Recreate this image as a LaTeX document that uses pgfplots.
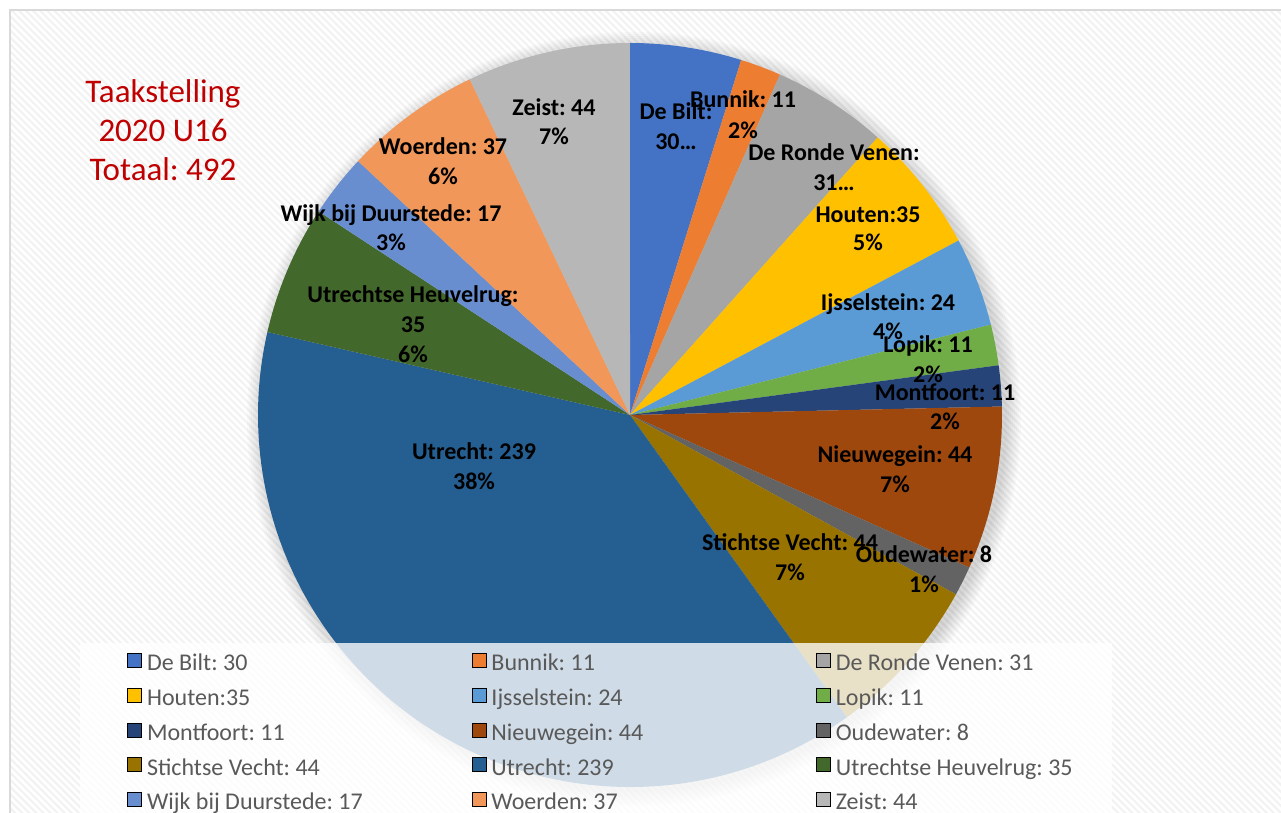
\documentclass[border=0pt]{standalone}
\usepackage{pgfplots}
\pgfplotsset{compat=1.18}
\usepackage{pgfplotstable}
\usetikzlibrary{patterns.meta}
\usepackage{fontspec}
\setmainfont{Carlito}
\frenchspacing
\definecolor{c1}{HTML}{4472C4}
\definecolor{c2}{HTML}{ED7D31}
\definecolor{c3}{HTML}{A5A5A5}
\definecolor{c4}{HTML}{FFC000}
\definecolor{c5}{HTML}{5B9BD5}
\definecolor{c6}{HTML}{70AD47}
\definecolor{c7}{HTML}{264478}
\definecolor{c8}{HTML}{9E480E}
\definecolor{c9}{HTML}{636363}
\definecolor{c10}{HTML}{997300}
\definecolor{c11}{HTML}{255E91}
\definecolor{c12}{HTML}{43682B}
\definecolor{c13}{HTML}{698ED0}
\definecolor{c14}{HTML}{F1975A}
\definecolor{c15}{HTML}{B7B7B7}
\definecolor{legendgray}{HTML}{595959}
\definecolor{titlered}{HTML}{C00000}

\pgfplotstableread[col sep=comma]{
name,value,color
De Bilt,30,c1
Bunnik,11,c2
De Ronde Venen,31,c3
Houten,35,c4
Ijsselstein,24,c5
Lopik,11,c6
Montfoort,11,c7
Nieuwegein,44,c8
Oudewater,8,c9
Stichtse Vecht,44,c10
Utrecht,239,c11
Utrechtse Heuvelrug,35,c12
Wijk bij Duurstede,17,c13
Woerden,37,c14
Zeist,44,c15
}\piedata

\newcommand{\lblfont}{\fontsize{24}{28}\selectfont\bfseries}
\newcommand{\lbl}[5]{%
  \node[anchor=base,font=\lblfont,inner sep=0pt] at (axis cs:#1,#2) {#4};
  \node[anchor=base,font=\lblfont,inner sep=0pt] at (axis cs:#1,#3) {#5};}

\begin{document}
\begin{tikzpicture}
\useasboundingbox (0,0) rectangle (1281pt,812pt);
\clip (0,0) rectangle (1281pt,812pt);
\begin{axis}[
  at={(0,0)}, anchor=south west,
  scale only axis, width=1281pt, height=812pt,
  xmin=0, xmax=1281, ymin=-812, ymax=0,
  hide axis, clip=false,
  legend columns=3,
  legend cell align=left,
  legend image code/.code={\fill[#1] (0pt,-1pt) rectangle (14pt,13pt);},
  legend style={at={(0.0991,0.1958)}, anchor=north west, draw=none, fill=none,
     inner sep=0pt, column sep=5.5pt, row sep=12pt,
     font=\fontsize{24}{27}\selectfont, text=legendgray,
     nodes={inner sep=0pt, text height=14pt, text depth=5pt}},
]
% background
\fill[white] (axis cs:10,-10) rectangle (axis cs:1300,-830);
\fill[pattern={Lines[angle=-45,distance=5pt,line width=2pt]}, pattern color=black!5] (axis cs:10,-10) rectangle (axis cs:1300,-830);
\draw[black!15, line width=1.5pt] (axis cs:10,-10) rectangle (axis cs:1300,-830);
% soft shadow
\pgfplotsinvokeforeach{1,...,8}{\fill[black,opacity=0.018] (axis cs:634,-419) circle[radius={371pt+#1*2pt}];}
% pie sectors
\pgfplotstablegetrowsof{\piedata}
\pgfmathtruncatemacro{\lastrow}{\pgfplotsretval-1}
\def\total{0}
\pgfplotsforeachungrouped \i in {0,...,\lastrow}{%
  \pgfplotstablegetelem{\i}{value}\of\piedata
  \pgfmathsetmacro\total{\total+\pgfplotsretval}%
}
\pgfmathsetmacro\degper{360/\total}
\def\cumsum{0}
\pgfplotsforeachungrouped \i in {0,...,\lastrow}{%
  \pgfplotstablegetelem{\i}{value}\of\piedata \let\v\pgfplotsretval
  \pgfplotstablegetelem{\i}{color}\of\piedata \let\c\pgfplotsretval
  \pgfmathsetmacro\sa{90-\cumsum*\degper}%
  \pgfmathsetmacro\cumsum{\cumsum+\v}%
  \pgfmathsetmacro\ea{90-\cumsum*\degper}%
  \edef\temp{\noexpand\fill[\c] (axis cs:630,-415) -- ++(\sa:372pt) arc[start angle=\sa, end angle=\ea, radius=372pt] -- cycle;}%
  \temp
}
% labels
\lbl{554}{-115.5}{-144.5}{Zeist: 44}{7\%}
\lbl{676}{-119.5}{-149.5}{De Bilt:}{30…}
\lbl{743}{-107.5}{-138.5}{Bunnik: 11}{2\%}
\lbl{834}{-160.5}{-190.5}{De Ronde Venen:}{31…}
\lbl{868}{-222.5}{-250.5}{Houten:35}{5\%}
\lbl{888}{-310.5}{-339.5}{Ijsselstein: 24}{4\%}
\lbl{928}{-352.5}{-382.5}{Lopik: 11}{2\%}
\lbl{945}{-400.5}{-429.5}{Montfoort: 11}{2\%}
\lbl{895}{-462.5}{-492.5}{Nieuwegein: 44}{7\%}
\lbl{790}{-550.5}{-580.5}{Stichtse Vecht: 44}{7\%}
\lbl{924}{-562.5}{-592.5}{Oudewater: 8}{1\%}
\lbl{474}{-459.5}{-489.5}{Utrecht: 239}{38\%}
\lbl{413}{-302.5}{-332.5}{Utrechtse Heuvelrug:}{35}
\node[anchor=base,font=\lblfont,inner sep=0pt] at (axis cs:413,-362.5) {6\%};
\lbl{391}{-221.5}{-250.5}{Wijk bij Duurstede: 17}{3\%}
\lbl{443}{-154.5}{-184.5}{Woerden: 37}{6\%}
% title
\node[anchor=base,text=titlered,font=\fontsize{33}{39}\selectfont,inner sep=0pt] at (axis cs:163,-103) {Taakstelling};
\node[anchor=base,text=titlered,font=\fontsize{33}{39}\selectfont,inner sep=0pt] at (axis cs:163,-142) {2020 U16};
\node[anchor=base,text=titlered,font=\fontsize{33}{39}\selectfont,inner sep=0pt] at (axis cs:163,-181) {Totaal: 492};
% legend backdrop
\fill[white, opacity=0.78] (axis cs:80,-643) rectangle (axis cs:1112,-830);
% legend
\addlegendimage{fill=c1}\addlegendentry{\makebox[319pt][l]{De Bilt: 30}}
\addlegendimage{fill=c2}\addlegendentry{\makebox[319pt][l]{Bunnik: 11}}
\addlegendimage{fill=c3}\addlegendentry{\makebox[319pt][l]{De Ronde Venen: 31}}
\addlegendimage{fill=c4}\addlegendentry{\makebox[319pt][l]{Houten:35}}
\addlegendimage{fill=c5}\addlegendentry{\makebox[319pt][l]{Ijsselstein: 24}}
\addlegendimage{fill=c6}\addlegendentry{\makebox[319pt][l]{Lopik: 11}}
\addlegendimage{fill=c7}\addlegendentry{\makebox[319pt][l]{Montfoort: 11}}
\addlegendimage{fill=c8}\addlegendentry{\makebox[319pt][l]{Nieuwegein: 44}}
\addlegendimage{fill=c9}\addlegendentry{\makebox[319pt][l]{Oudewater: 8}}
\addlegendimage{fill=c10}\addlegendentry{\makebox[319pt][l]{Stichtse Vecht: 44}}
\addlegendimage{fill=c11}\addlegendentry{\makebox[319pt][l]{Utrecht: 239}}
\addlegendimage{fill=c12}\addlegendentry{\makebox[319pt][l]{Utrechtse Heuvelrug: 35}}
\addlegendimage{fill=c13}\addlegendentry{\makebox[319pt][l]{Wijk bij Duurstede: 17}}
\addlegendimage{fill=c14}\addlegendentry{\makebox[319pt][l]{Woerden: 37}}
\addlegendimage{fill=c15}\addlegendentry{\makebox[319pt][l]{Zeist: 44}}
\end{axis}
\end{tikzpicture}
\end{document}
